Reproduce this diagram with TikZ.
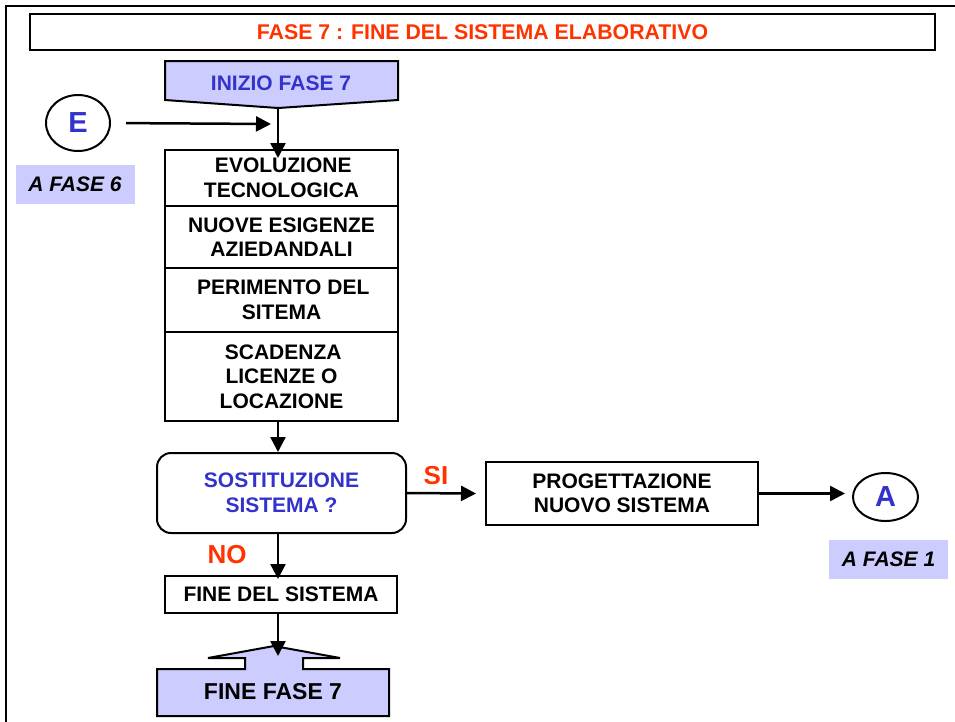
\documentclass[tikz,border=0pt]{standalone}
\usepackage{fontspec}
\setmainfont{Liberation Sans}
\usepackage{xcolor}
\usetikzlibrary{arrows.meta,positioning,shapes.geometric}
\definecolor{lavanda}{HTML}{CCCCFF}
\definecolor{blu}{HTML}{3333CC}
\definecolor{rosso}{HTML}{FF3300}

\begin{document}
\begin{tikzpicture}[x=1pt,y=-1pt,line width=2pt,
	font=\fontsize{21}{24.5}\selectfont\bfseries,
	blocco/.style={draw,rectangle,align=center,inner sep=0pt},
	etichetta/.style={rectangle,fill=lavanda,align=center,inner sep=0pt,font=\fontsize{21}{24.5}\selectfont\bfseries\itshape},
	connettore/.style={draw,ellipse,inner sep=0pt,text=blu,font=\fontsize{29}{32}\selectfont\bfseries},
	risposta/.style={text=rosso,font=\fontsize{26}{30}\selectfont\bfseries}]
	\useasboundingbox (0,0) rectangle (955,721);
	\draw[line width=2.5pt] (6,740) -- (6,6) -- (975,6);
	\node[blocco,minimum width=905pt,minimum height=36pt,text=rosso,font=\fontsize{21.3}{24}\selectfont\bfseries] (titolo) at (482.5,32) {FASE 7 : FINE DEL SISTEMA ELABORATIVO};
	% inizio e fine fase
	\draw[fill=lavanda] (165,61) -- (398,61) -- (398,100) -- (278,108) -- (165,100) -- cycle;
	\coordinate (inizioPunta) at (278,108);
	\node[text=blu] (inizio) at (281,83) {INIZIO FASE 7};
	\draw[fill=lavanda] (157,669) -- (245,669) -- (245,658) -- (208,658) -- (274,646) -- (340,658) -- (303,658) -- (303,669) -- (389,669) -- (389,716) -- (157,716) -- cycle;
	\coordinate (fineApice) at (278,646);
	\node[font=\fontsize{23}{26}\selectfont\bfseries] (finefase) at (273,692) {FINE FASE 7};
	\begin{scope}[every node/.style={blocco,minimum width=233pt}]
		\node[minimum height=56pt] (evol) at (281.5,178) {\,EVOLUZIONE\\TECNOLOGICA};
		\node[minimum height=62pt] (esig) at (281.5,237) {NUOVE ESIGENZE\\AZIEDANDALI};
		\node[minimum height=64pt] (perim) at (281.5,300) {\,PERIMENTO DEL\\SITEMA};
		\node[minimum height=89pt] (scad) at (281.5,376.5) {\,SCADENZA\\LICENZE O\\LOCAZIONE};
	\end{scope}
	\node[blocco,rounded corners=14pt,minimum width=249pt,minimum height=80pt,text=blu] (decisione) at (281.5,493) {SOSTITUZIONE\\SISTEMA ?};
	\node[blocco,minimum width=272pt,minimum height=63pt] (prog) at (622,493.5) {PROGETTAZIONE\\NUOVO SISTEMA};
	\node[blocco,minimum width=232pt,minimum height=37pt] (fine) at (281,594.5) {FINE DEL SISTEMA};
	\node[connettore,minimum width=64pt,minimum height=56pt] (e) at (78,123) {E};
	\node[connettore,minimum width=65pt,minimum height=48pt] (a) at (885.5,497) {A};
	\node[etichetta,minimum width=119pt,minimum height=39pt] (fase6) at (75,184) {A FASE 6};
	\node[etichetta,minimum width=119pt,minimum height=39pt] (fase1) at (888.5,559.5) {A FASE 1};
	\node[risposta] (si) at (436,475.5) {SI};
	\node[risposta] (no) at (227,555) {NO};
	\coordinate (innesto) at (271,124);
	\begin{scope}[line width=2.5pt,>={Triangle[length=15pt,width=15pt]}]
		\draw[->] (inizioPunta) -- ([yshift=-9pt]inizioPunta |- evol.north);
		\draw[->,shorten <=15pt] (e.east) -- (innesto);
		\draw[->] (inizioPunta |- scad.south) -- (inizioPunta |- decisione.north);
		\draw[->] (decisione.east) -- ([xshift=-9pt]prog.west);
		\draw[->] (prog.east) -- ([xshift=-7pt]a.west |- prog.east);
		\draw[->] (inizioPunta |- decisione.south) -- ([yshift=-4pt]inizioPunta |- fine.north);
		\draw[->] (inizioPunta |- fine.south) -- ([yshift=-10pt]fineApice);
	\end{scope}
\end{tikzpicture}
\end{document}
